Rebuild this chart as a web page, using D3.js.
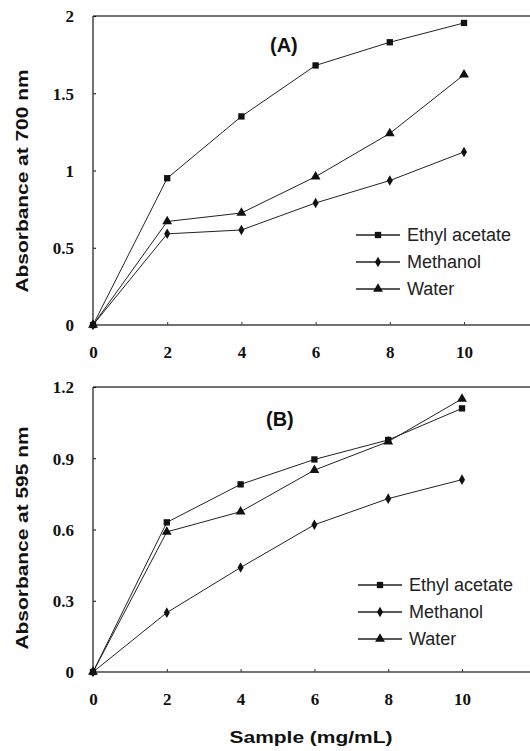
<!DOCTYPE html>
<html lang="en">
<head>
<meta charset="UTF-8">
<title>Absorbance vs sample</title>
<style>
  body { margin: 0; background: #fff; }
  svg { display: block; }
  .tick text { font-family: "Liberation Serif", "Times New Roman", serif; font-weight: bold; font-size: 17px; fill: #111; }
  .title { font-family: "Liberation Sans", Arial, sans-serif; font-weight: bold; fill: #111; }
  .legend text { font-family: "Liberation Sans", Arial, sans-serif; font-size: 18px; fill: #222; }
</style>
<script src="https://d3js.org/d3.v7.min.js"></script>
</head>
<body>
<svg id="chart" width="530" height="751"></svg>
<script>
// sample concentration (mg/mL)
const samples = [0, 2, 4, 6, 8, 10];
const seriesNames = ["Ethyl acetate", "Methanol", "Water"];
const seriesSymbols = ["square", "diamond", "triangle"];

// panel A: absorbance at 700 nm
const ethylA = [0, 0.95, 1.35, 1.68, 1.83, 1.955];
const methanolA = [0, 0.59, 0.615, 0.79, 0.935, 1.12];
const waterA = [0, 0.67, 0.725, 0.96, 1.24, 1.62];
const yTicksA = [0, 0.5, 1, 1.5, 2];

// panel B: absorbance at 595 nm
const ethylB = [0, 0.63, 0.79, 0.895, 0.977, 1.11];
const methanolB = [0, 0.25, 0.44, 0.62, 0.73, 0.81];
const waterB = [0, 0.59, 0.675, 0.85, 0.97, 1.15];
const yTicksB = [0, 0.3, 0.6, 0.9, 1.2];

const xTicks = [0, 2, 4, 6, 8, 10];

const svg = d3.select("#chart");

const symbolType = {
    square: d3.symbolSquare,
    diamond: d3.symbolDiamond,
    triangle: d3.symbolTriangle
};
const symbolSize = { square: 40, diamond: 32, triangle: 42 };

function drawPanel(opts) {
    const x = d3.scaleLinear().domain([0, 10]).range([93, opts.x10]);
    const y = d3.scaleLinear().domain([0, opts.yMax]).range([opts.bottom, opts.top]);
    const g = svg.append("g");

    // top border line
    g.append("line")
        .attr("x1", 93).attr("x2", 530)
        .attr("y1", opts.top).attr("y2", opts.top)
        .attr("stroke", "#444").attr("stroke-width", 1.5);

    const xAxis = g.append("g")
        .attr("transform", `translate(0,${opts.bottom})`)
        .call(d3.axisBottom(x).tickValues(xTicks).tickSize(-3).tickPadding(21).tickFormat(d3.format("d")));
    xAxis.select(".domain").remove();
    xAxis.append("line")
        .attr("x1", 93).attr("x2", 530)
        .attr("stroke", "#444").attr("stroke-width", 1.5);
    xAxis.selectAll(".tick line").attr("stroke", "#333");

    const yAxis = g.append("g")
        .attr("transform", "translate(93,0)")
        .call(d3.axisLeft(y).tickValues(opts.yTicks).tickSize(-3).tickPadding(19).tickFormat(d => String(d)));
    yAxis.select(".domain").remove();
    yAxis.append("line")
        .attr("y1", opts.top).attr("y2", opts.bottom)
        .attr("stroke", "#444").attr("stroke-width", 1.5);
    yAxis.selectAll(".tick text").attr("dy", "0.35em");

    // y axis title
    g.append("text")
        .attr("class", "title")
        .attr("transform", `translate(28,${opts.titleY}) rotate(-90)`)
        .attr("text-anchor", "middle")
        .attr("textLength", 223)
        .attr("lengthAdjust", "spacingAndGlyphs")
        .style("font-size", "16px")
        .text(opts.yTitle);

    // panel label
    g.append("text")
        .attr("class", "title")
        .attr("x", opts.labelX).attr("y", opts.labelY)
        .style("font-size", "20px")
        .text(opts.label);

    const line = d3.line().x((d, i) => x(samples[i])).y(d => y(d));

    opts.series.forEach((vals, k) => {
        g.append("path")
            .datum(vals)
            .attr("fill", "none")
            .attr("stroke", "#222")
            .attr("stroke-width", 1)
            .attr("d", line);
        const sym = seriesSymbols[k];
        g.selectAll(null)
            .data(vals)
            .enter().append("path")
            .attr("transform", (d, i) => `translate(${x(samples[i])},${y(d)})`)
            .attr("d", d3.symbol().type(symbolType[sym]).size(symbolSize[sym]))
            .attr("fill", "#111");
    });

    // legend
    const lg = g.append("g").attr("class", "legend");
    seriesNames.forEach((name, k) => {
        const ly = opts.legendY + k * 27;
        lg.append("line")
            .attr("x1", opts.legendX).attr("x2", opts.legendX + 44)
            .attr("y1", ly).attr("y2", ly)
            .attr("stroke", "#222").attr("stroke-width", 1.5);
        const sym = seriesSymbols[k];
        lg.append("path")
            .attr("transform", `translate(${opts.legendX + 22},${ly})`)
            .attr("d", d3.symbol().type(symbolType[sym]).size(symbolSize[sym]))
            .attr("fill", "#111");
        lg.append("text")
            .attr("x", opts.legendX + 51).attr("y", ly)
            .attr("dy", "0.35em")
            .text(name);
    });
}

drawPanel({
    top: 16, bottom: 325, yMax: 2, x10: 464,
    yTicks: yTicksA, yTitle: "Absorbance  at 700 nm", titleY: 181,
    label: "(A)", labelX: 270, labelY: 52,
    series: [ethylA, methanolA, waterA],
    legendX: 356, legendY: 235
});

drawPanel({
    top: 387, bottom: 672, yMax: 1.2, x10: 462,
    yTicks: yTicksB, yTitle: "Absorbance at 595 nm", titleY: 538,
    label: "(B)", labelX: 266, labelY: 426,
    series: [ethylB, methanolB, waterB],
    legendX: 358, legendY: 585
});

// x axis title
svg.append("text")
    .attr("class", "title")
    .attr("x", 311).attr("y", 743)
    .attr("text-anchor", "middle")
    .attr("textLength", 163)
    .attr("lengthAdjust", "spacingAndGlyphs")
    .style("font-size", "17px")
    .text("Sample (mg/mL)");
</script>
</body>
</html>
